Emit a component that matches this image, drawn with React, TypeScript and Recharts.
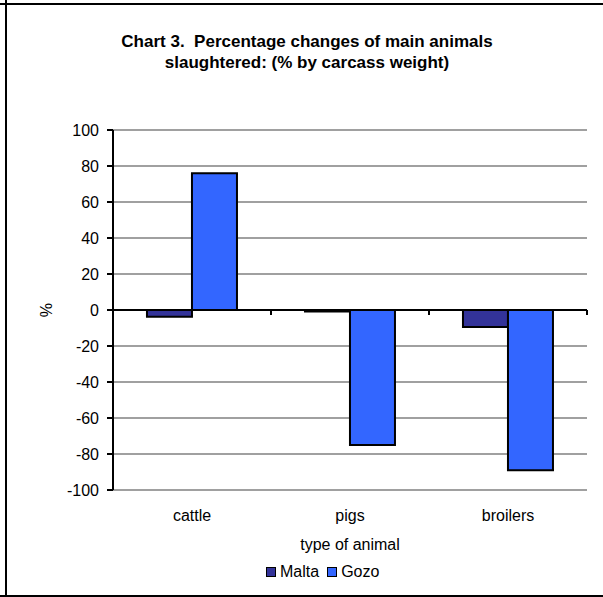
import {
  BarChart,
  Bar,
  XAxis,
  YAxis,
  CartesianGrid,
  ReferenceLine,
} from "recharts";

const categories = ["cattle", "pigs", "broilers"];
const maltaValues = [-3.8, -0.8, -9.5];
const gozoValues = [76, -75, -89];
const yTicks = [-100, -80, -60, -40, -20, 0, 20, 40, 60, 80, 100];

const series = [
  { key: "Malta", colour: "#333399" },
  { key: "Gozo", colour: "#3366ff" },
];

const data = categories.map((c, i) => ({
  name: c,
  Malta: maltaValues[i],
  Gozo: gozoValues[i],
}));

const font = "'Liberation Sans', Arial, sans-serif";

// zero line with the little category ticks hanging under it
const ZeroLine = (props: any) => {
  const { x1, x2, y1 } = props;
  const n = categories.length;
  const step = (x2 - x1) / n;
  return (
    <g>
      <line x1={x1} x2={x2} y1={y1} y2={y1} stroke="#000" strokeWidth={2} />
      {Array.from({ length: n + 1 }, (_, i) => (
        <line
          key={i}
          x1={x1 + step * i}
          x2={x1 + step * i}
          y1={y1}
          y2={y1 + 5}
          stroke="#000"
          strokeWidth={2}
        />
      ))}
    </g>
  );
};

const LegendBox = () => (
  <div
    style={{
      position: "absolute",
      left: 266,
      top: 563,
      display: "flex",
      alignItems: "center",
      fontFamily: font,
      fontSize: 16,
      color: "#000",
      gap: 8,
    }}
  >
    {series.map((s) => (
      <span key={s.key} style={{ display: "flex", alignItems: "center" }}>
        <span
          style={{
            width: 8,
            height: 8,
            background: s.colour,
            border: "1.5px solid #000",
            marginRight: 4,
          }}
        />
        {s.key}
      </span>
    ))}
  </div>
);

export default function App() {
  return (
    <div
      style={{
        position: "absolute",
        left: 0,
        top: 0,
        width: 603,
        height: 597,
        background: "#fff",
        fontFamily: font,
      }}
    >
      {/* the frame: cropped, no right edge */}
      <div style={{ position: "absolute", left: 0, top: 3, width: 603, height: 2, background: "#000" }} />
      <div style={{ position: "absolute", left: 0, top: 595, width: 603, height: 2, background: "#000" }} />
      <div style={{ position: "absolute", left: 5, top: 0, width: 2, height: 597, background: "#000" }} />

      <div
        style={{
          position: "absolute",
          left: 0,
          top: 31,
          width: 614,
          textAlign: "center",
          fontWeight: "bold",
          fontSize: 17,
          lineHeight: "21px",
          whiteSpace: "pre",
          color: "#000",
        }}
      >
        {"Chart 3.  Percentage changes of main animals\nslaughtered: (% by carcass weight)"}
      </div>

      <BarChart
        width={603}
        height={597}
        data={data}
        margin={{ top: 130, right: 16, bottom: 32, left: 53 }}
        barCategoryGap="21.5%"
        barGap={0}
        style={{ position: "absolute", left: 0, top: 0 }}
      >
        <CartesianGrid vertical={false} stroke="#a0a0a0" strokeWidth={2} />
        <XAxis
          dataKey="name"
          axisLine={false}
          tickLine={false}
          tickSize={0}
          tickMargin={20}
          height={75}
          tick={{ fill: "#000", fontSize: 16, fontFamily: font }}
          label={{
            value: "type of animal",
            position: "insideTop",
            offset: 49,
            fill: "#000",
            fontSize: 16,
            fontFamily: font,
          }}
        />
        <YAxis
          width={60}
          domain={[-100, 100]}
          ticks={yTicks}
          interval={0}
          axisLine={{ stroke: "#000", strokeWidth: 2 }}
          tickLine={{ stroke: "#000", strokeWidth: 2 }}
          tickSize={6}
          tickMargin={8}
          tick={{ fill: "#000", fontSize: 16, fontFamily: font }}
          label={(p: any) => (
            <text
              x={46}
              y={p.viewBox.y + p.viewBox.height / 2}
              transform={`rotate(-90, 46, ${p.viewBox.y + p.viewBox.height / 2})`}
              textAnchor="middle"
              dominantBaseline="central"
              fontSize={16}
              fontFamily={font}
              fill="#000"
            >
              %
            </text>
          )}
        />
        {series.map((s) => (
          <Bar
            key={s.key}
            dataKey={s.key}
            fill={s.colour}
            stroke="#000"
            strokeWidth={2}
            isAnimationActive={false}
          />
        ))}
        <ReferenceLine y={0} shape={ZeroLine} />
      </BarChart>
      <LegendBox />
    </div>
  );
}
